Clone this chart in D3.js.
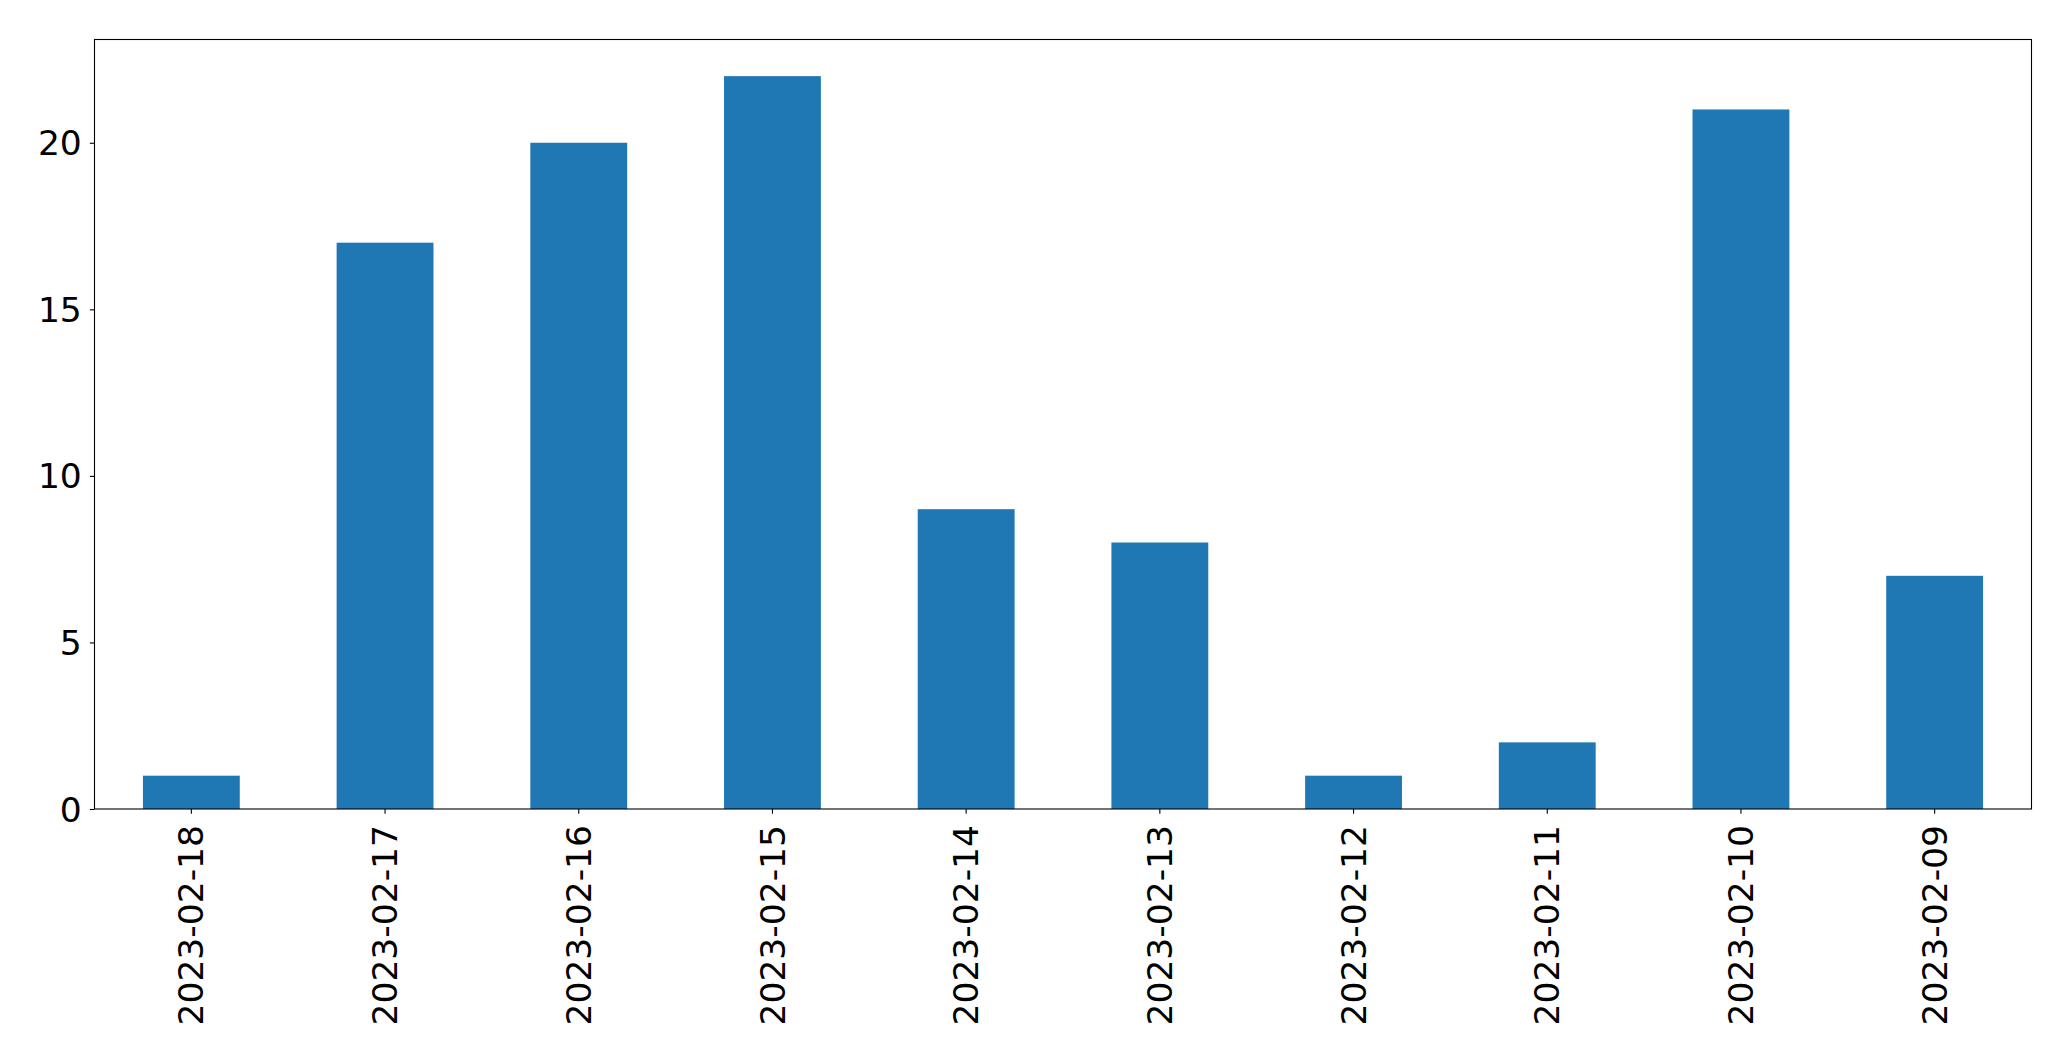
<!DOCTYPE html>
<html>
<head>
<meta charset="utf-8">
<script src="https://cdn.jsdelivr.net/npm/d3@7"></script>
<style>
  html, body { margin: 0; padding: 0; background: #fff; }
  svg { display: block; }
</style>
</head>
<body>
<svg id="chart" width="2071" height="1061"></svg>
<script>
const categories = ["2023-02-18","2023-02-17","2023-02-16","2023-02-15","2023-02-14","2023-02-13","2023-02-12","2023-02-11","2023-02-10","2023-02-09"];
const values = [1, 17, 20, 22, 9, 8, 1, 2, 21, 7];
const yTicks = [0, 5, 10, 15, 20];

const W = 2071, H = 1061;
const margin = {left: 94.5, right: W - 2031.5, top: 39.5, bottom: H - 809};
const svg = d3.select("#chart");
const font = "'DejaVu Sans', sans-serif";
const fs = 34.5;

const x = d3.scaleBand()
  .domain(categories)
  .range([margin.left, W - margin.right])
  .paddingInner(0.5)
  .paddingOuter(0.25);

const yMax = d3.max(values) * 1.05;
const y = d3.scaleLinear()
  .domain([0, yMax])
  .range([H - margin.bottom, margin.top]);

svg.append("g")
  .selectAll("rect")
  .data(values)
  .join("rect")
  .attr("x", (d, i) => x(categories[i]))
  .attr("width", x.bandwidth())
  .attr("y", d => y(d))
  .attr("height", d => y(0) - y(d))
  .attr("fill", "#1f77b4");

// Y axis
const yAxis = svg.append("g")
  .attr("transform", `translate(${margin.left},0)`)
  .call(d3.axisLeft(y).tickValues(yTicks).tickFormat(d3.format("d")).tickSize(4.7).tickPadding(8));
yAxis.select(".domain").remove();
yAxis.selectAll("line").attr("stroke", "#000").attr("stroke-width", 1.1);
yAxis.selectAll("text")
  .attr("font-family", font)
  .attr("font-size", fs)
  .attr("fill", "#000")
  .attr("dy", "0.35em");

// X axis
const xAxis = svg.append("g")
  .attr("transform", `translate(0,${H - margin.bottom})`)
  .call(d3.axisBottom(x).tickSize(4.7).tickPadding(0));
xAxis.select(".domain").remove();
xAxis.selectAll("line").attr("stroke", "#000").attr("stroke-width", 1.1);
xAxis.selectAll("text")
  .attr("font-family", font)
  .attr("font-size", fs)
  .attr("fill", "#000")
  .attr("text-anchor", "end")
  .attr("y", 0)
  .attr("dy", "0.35em")
  .attr("transform", "translate(0,16) rotate(-90)");

// Frame
svg.append("rect")
  .attr("x", margin.left)
  .attr("y", margin.top)
  .attr("width", W - margin.right - margin.left)
  .attr("height", H - margin.bottom - margin.top)
  .attr("fill", "none")
  .attr("stroke", "#000")
  .attr("stroke-width", 1.1);
</script>
</body>
</html>
